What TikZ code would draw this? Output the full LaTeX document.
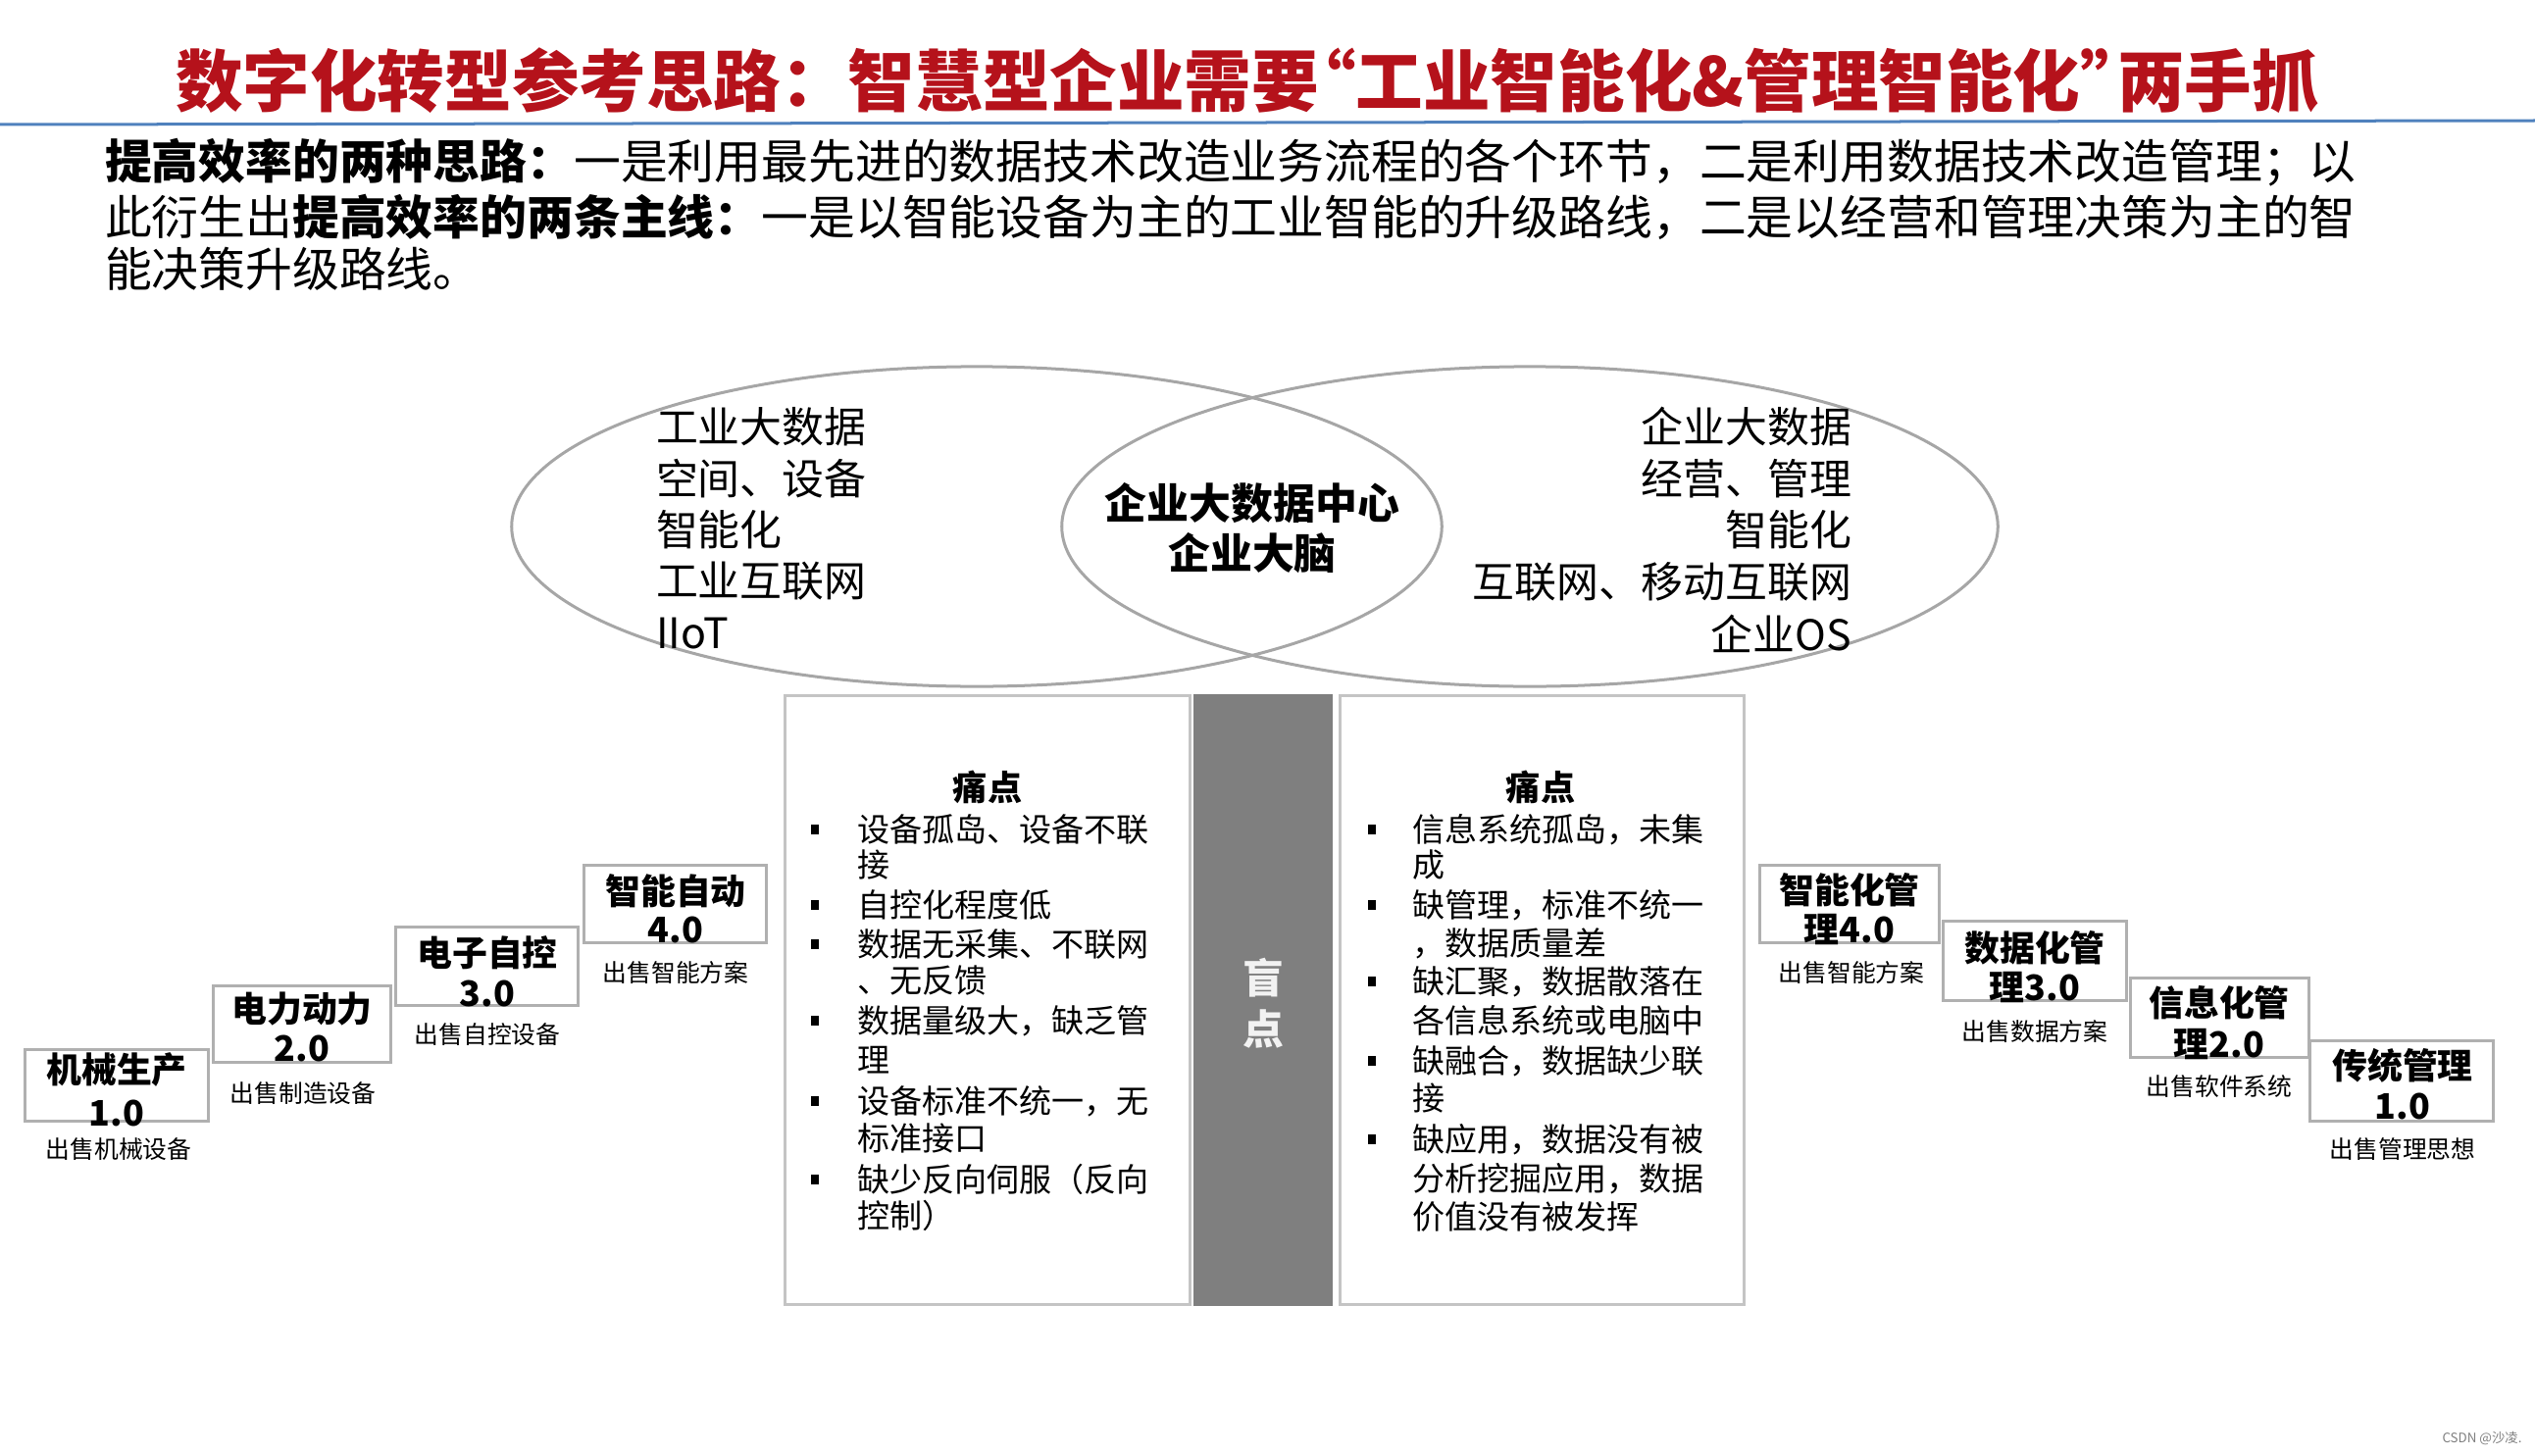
\documentclass[tikz,border=0pt]{standalone}
\usepackage{fontspec}
\setmainfont{Noto Sans CJK SC}
\usetikzlibrary{shapes.geometric}
\definecolor{titlered}{HTML}{B5121B}
\definecolor{lineblue}{HTML}{4F81BD}
\definecolor{ellgray}{HTML}{A6A6A6}
\definecolor{boxgray}{HTML}{C4C4C4}
\definecolor{stepgray}{HTML}{B0B0B0}
\definecolor{bandgray}{HTML}{7F7F7F}
\tikzset{
  txt/.style={inner sep=0pt, outer sep=0pt},
  titletxt/.style={txt, text=titlered, font=\fontsize{19.5}{22}\selectfont\bfseries},
  bodytxt/.style={txt, anchor=west, font=\fontsize{13.6}{16}\selectfont},
  elltxt/.style={txt, font=\fontsize{12.2}{14}\selectfont},
  ellshape/.style={ellipse, draw=ellgray, line width=0.03cm, inner sep=0pt},
  panel/.style={rectangle, draw=boxgray, line width=0.03cm, inner sep=0pt},
  band/.style={rectangle, fill=bandgray, inner sep=0pt},
  ptxt/.style={txt, anchor=west, font=\fontsize{9.4}{11}\selectfont},
  phead/.style={txt, font=\fontsize{10}{12}\selectfont\bfseries},
  bul/.style={rectangle, fill=black, inner sep=0pt, minimum width=0.085cm, minimum height=0.095cm},
  stepbox/.style={rectangle, draw=stepgray, line width=0.03cm, inner sep=0pt},
  steptxt/.style={txt, font=\fontsize{10.2}{12}\selectfont\bfseries},
  steplab/.style={txt, font=\fontsize{7.05}{8}\selectfont},
}
\begin{document}
\begin{tikzpicture}[x=0.01cm, y=-0.01cm]
\useasboundingbox (0,0) rectangle (2585,1485);
% title
\node[titletxt] (title) at (1272,82) {数字化转型参考思路：智慧型企业需要\kern-0.45em“工业智能化\&管理智能化"\kern-0.45em 两手抓};
\coordinate (bl) at (0,127);
\coordinate (br) at (2585,123);
\draw[lineblue, line width=0.03cm] (bl) -- (br);
% body text
\node[bodytxt] (b1) at (107,166) {\bfseries 提高效率的两种思路：\mdseries 一是利用最先进的数据技术改造业务流程的各个环节，二是利用数据技术改造管理；以};
\node[bodytxt] (b2) at (107,221) {此衍生出\bfseries 提高效率的两条主线：\mdseries 一是以智能设备为主的工业智能的升级路线，二是以经营和管理决策为主的智};
\node[bodytxt] (b3) at (107,274) {能决策升级路线。};
% ellipses
\node[ellshape, minimum width=9.48cm, minimum height=3.26cm] (le) at (996,537) {};
\node[ellshape, minimum width=9.54cm, minimum height=3.26cm] (re) at (1560,537) {};
\node[elltxt, anchor=west] (l1) at (669,435) {工业大数据};
\node[elltxt, anchor=west] (l2) at (669,488) {空间、设备};
\node[elltxt, anchor=west] (l3) at (669,540) {智能化};
\node[elltxt, anchor=west] (l4) at (669,593) {工业互联网};
\node[elltxt, anchor=west] (l5) at (669,646) {IIoT};
\node[elltxt, anchor=east] (r1) at (1888,435) {企业大数据};
\node[elltxt, anchor=east] (r2) at (1888,488) {经营、管理};
\node[elltxt, anchor=east] (r3) at (1888,540) {智能化};
\node[elltxt, anchor=east] (r4) at (1888,593) {互联网、移动互联网};
\node[elltxt, anchor=east] (r5) at (1888,646) {企业OS};
\node[elltxt, font=\fontsize{12.2}{14}\selectfont\bfseries] (c1) at (1277,513) {企业大数据中心};
\node[elltxt, font=\fontsize{12.2}{14}\selectfont\bfseries] (c2) at (1277,564) {企业大脑};
% panels
\node[panel, minimum width=4.12cm, minimum height=6.2cm] (lp) at (1007,1020) {};
\node[band, minimum width=1.42cm, minimum height=6.23cm] (bd) at (1288,1020) {};
\node[panel, minimum width=4.11cm, minimum height=6.2cm] (rp) at (1572.5,1020) {};
\node[txt, text=white!95!black, font=\fontsize{11.9}{14}\selectfont\bfseries] (m1) at (1288,997) {盲};
\node[txt, text=white!95!black, font=\fontsize{11.9}{14}\selectfont\bfseries] (m2) at (1288,1049) {点};
% left panel
\node[phead] (lh) at (1007,803) {痛点};
\node[ptxt] (lt1) at (874,846) {设备孤岛、设备不联};
\node[ptxt] (lt2) at (874,882) {接};
\node[ptxt] (lt3) at (874,923) {自控化程度低};
\node[ptxt] (lt4) at (874,963) {数据无采集、不联网};
\node[ptxt] (lt5) at (874,1000) {、无反馈};
\node[ptxt] (lt6) at (874,1041) {数据量级大，缺乏管};
\node[ptxt] (lt7) at (874,1081) {理};
\node[ptxt] (lt8) at (874,1123) {设备标准不统一，无};
\node[ptxt] (lt9) at (874,1161) {标准接口};
\node[ptxt] (lt10) at (874,1203) {缺少反向伺服（反向};
\node[ptxt] (lt11) at (874,1240) {控制）};
\foreach \n/\yy in {1/846,2/923,3/963,4/1041,5/1123,6/1203}
  \node[bul] (lb\n) at (831,\yy) {};
% right panel
\node[phead] (rh) at (1571,803) {痛点};
\node[ptxt] (rt1) at (1440,846) {信息系统孤岛，未集};
\node[ptxt] (rt2) at (1440,882) {成};
\node[ptxt] (rt3) at (1440,923) {缺管理，标准不统一};
\node[ptxt] (rt4) at (1440,962) {，数据质量差};
\node[ptxt] (rt5) at (1440,1001) {缺汇聚，数据散落在};
\node[ptxt] (rt6) at (1440,1041) {各信息系统或电脑中};
\node[ptxt] (rt7) at (1440,1082) {缺融合，数据缺少联};
\node[ptxt] (rt8) at (1440,1120) {接};
\node[ptxt] (rt9) at (1440,1162) {缺应用，数据没有被};
\node[ptxt] (rt10) at (1440,1202) {分析挖掘应用，数据};
\node[ptxt] (rt11) at (1440,1241) {价值没有被发挥};
\foreach \n/\yy in {1/846,2/923,3/1001,4/1082,5/1162}
  \node[bul] (rb\n) at (1399,\yy) {};
% left steps
\node[stepbox, minimum width=1.86cm, minimum height=0.72cm] (s1) at (119,1107) {};
\node[steptxt] (s1a) at (119,1091) {机械生产};
\node[steptxt] (s1b) at (119,1135) {1.0};
\node[steplab] (s1c) at (121,1172) {出售机械设备};
\node[stepbox, minimum width=1.80cm, minimum height=0.77cm] (s2) at (308,1044.5) {};
\node[steptxt] (s2a) at (308,1029) {电力动力};
\node[steptxt] (s2b) at (308,1069) {2.0};
\node[steplab] (s2c) at (309,1115) {出售制造设备};
\node[stepbox, minimum width=1.85cm, minimum height=0.79cm] (s3) at (496.5,985.5) {};
\node[steptxt] (s3a) at (497,972) {电子自控};
\node[steptxt] (s3b) at (497,1013) {3.0};
\node[steplab] (s3c) at (497,1055) {出售自控设备};
\node[stepbox, minimum width=1.85cm, minimum height=0.78cm] (s4) at (688.5,922) {};
\node[steptxt] (s4a) at (689,909) {智能自动};
\node[steptxt] (s4b) at (689,948) {4.0};
\node[steplab] (s4c) at (689,992) {出售智能方案};
% right steps
\node[stepbox, minimum width=1.82cm, minimum height=0.78cm] (t4) at (1886,922) {};
\node[steptxt] (t4a) at (1886,908) {智能化管};
\node[steptxt] (t4b) at (1886,948) {理4.0};
\node[steplab] (t4c) at (1888,992) {出售智能方案};
\node[stepbox, minimum width=1.86cm, minimum height=0.80cm] (t3) at (2075,980) {};
\node[steptxt] (t3a) at (2075,967) {数据化管};
\node[steptxt] (t3b) at (2075,1007) {理3.0};
\node[steplab] (t3c) at (2075,1052) {出售数据方案};
\node[stepbox, minimum width=1.81cm, minimum height=0.80cm] (t2) at (2263.5,1038) {};
\node[steptxt] (t2a) at (2263,1023) {信息化管};
\node[steptxt] (t2b) at (2263,1065) {理2.0};
\node[steplab] (t2c) at (2263,1108) {出售软件系统};
\node[stepbox, minimum width=1.86cm, minimum height=0.81cm] (t1) at (2449,1102.5) {};
\node[steptxt] (t1a) at (2450,1087) {传统管理};
\node[steptxt] (t1b) at (2450,1128) {1.0};
\node[steplab] (t1c) at (2450,1172) {出售管理思想};
% watermark
\node[txt, text=gray, font=\fontsize{3.8}{4.5}\selectfont] (wm) at (2531,1467) {CSDN @沙凌.};
\end{tikzpicture}
\end{document}
